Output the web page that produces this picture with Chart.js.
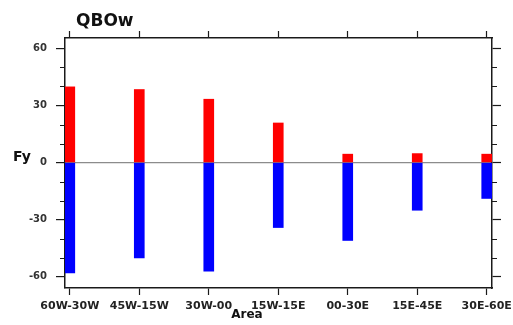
<!DOCTYPE html>
<html>
<head>
<meta charset="utf-8">
<script src="https://cdn.jsdelivr.net/npm/chart.js@4.4.0/dist/chart.umd.min.js"></script>
<style>
  html, body { margin: 0; padding: 0; background: #fff; }
  #wrap { width: 513px; height: 325px; }
</style>
</head>
<body>
<div id="wrap"><canvas id="chart"></canvas></div>
<script>
const categories = ['60W-30W', '45W-15W', '30W-00', '15W-15E', '00-30E', '15E-45E', '30E-60E'];
const positiveFy = [39.8, 38.4, 33.3, 20.8, 4.4, 4.7, 4.4];
const negativeFy = [-58.1, -50.2, -57.2, -34.2, -41.0, -25.1, -18.9];
const yMajorTicks = [-60, -30, 0, 30, 60];
const yMinorTicks = [-50, -40, -20, -10, 10, 20, 40, 50];

const frameColor = '#1a1a1a';
const tickFont = { family: 'DejaVu Sans', weight: 'bold', size: 11 };

// x positions are category indexes on a linear axis
const catTicks = () => categories.map((c, i) => ({ value: i }));

function points(values) {
    return values.map((v, i) => ({ x: i, y: v }));
}

// keep the plot box fixed, labels may hang over the edges
function fixHeight(h) {
    return scale => {
        scale.height = h;
        scale.paddingLeft = 0;
        scale.paddingRight = 0;
    };
}

// minor ticks on left and right, plus the free text (title, Fy, Area)
const extrasPlugin = {
    id: 'extras',
    afterDraw(chart) {
        const ctx = chart.ctx;
        const area = chart.chartArea;
        const yScale = chart.scales.y;

        ctx.save();
        ctx.strokeStyle = frameColor;
        ctx.lineWidth = 1.2;
        yMinorTicks.forEach(v => {
            const py = Math.round(yScale.getPixelForValue(v)) + 0.5;
            ctx.beginPath();
            ctx.moveTo(area.left - 5, py);
            ctx.lineTo(area.left, py);
            ctx.moveTo(area.right, py);
            ctx.lineTo(area.right + 5, py);
            ctx.stroke();
        });

        ctx.fillStyle = '#111';
        ctx.textBaseline = 'middle';
        ctx.textAlign = 'left';
        ctx.font = 'bold 17px "DejaVu Sans"';
        ctx.fillText('QBOw', 76, 22);

        ctx.font = 'bold 14px "DejaVu Sans"';
        ctx.fillText('Fy', 13, 157);

        ctx.textAlign = 'center';
        ctx.font = 'bold 12px "DejaVu Sans"';
        ctx.fillText('Area', 247, 315);
        ctx.restore();
    }
};

const ctx = document.getElementById('chart').getContext('2d');

new Chart(ctx, {
    type: 'bar',
    data: {
        datasets: [{
            label: 'positive',
            data: points(positiveFy),
            backgroundColor: '#ff0000',
            barThickness: 10
        }, {
            label: 'negative',
            data: points(negativeFy),
            backgroundColor: '#0000ff',
            barThickness: 10
        }]
    },
    options: {
        responsive: true,
        maintainAspectRatio: false,
        animation: false,
        layout: { padding: 0 },
        plugins: {
            legend: { display: false },
            tooltip: { enabled: false },
            title: { display: false }
        },
        scales: {
            x: {
                type: 'linear',
                position: 'bottom',
                stacked: true,
                offset: false,
                min: -0.069,
                max: 6.076,
                afterBuildTicks: scale => { scale.ticks = catTicks(); },
                afterFit: fixHeight(37),
                ticks: {
                    font: tickFont,
                    color: '#222',
                    padding: 5,
                    maxRotation: 0,
                    autoSkip: false,
                    callback: value => categories[value]
                },
                grid: {
                    offset: false,
                    drawOnChartArea: false,
                    tickLength: 7,
                    tickColor: frameColor,
                    tickWidth: 1.2
                },
                border: { color: frameColor, width: 1.5 }
            },
            x2: {
                type: 'linear',
                position: 'top',
                offset: false,
                min: -0.069,
                max: 6.076,
                afterBuildTicks: scale => { scale.ticks = catTicks(); },
                afterFit: fixHeight(38),
                ticks: { display: false },
                grid: {
                    offset: false,
                    drawOnChartArea: false,
                    tickLength: 7,
                    tickColor: frameColor,
                    tickWidth: 1.2
                },
                border: { color: frameColor, width: 1.5 }
            },
            y: {
                position: 'left',
                stacked: true,
                min: -66,
                max: 65.5,
                afterBuildTicks: scale => { scale.ticks = yMajorTicks.map(v => ({ value: v })); },
                afterFit: scale => { scale.width = 65; },
                ticks: {
                    font: { family: 'DejaVu Sans', weight: 'bold', size: 10 },
                    color: '#333',
                    padding: 9
                },
                grid: {
                    drawOnChartArea: true,
                    color: c => (c.tick && c.tick.value === 0) ? '#8c8c8c' : 'rgba(0,0,0,0)',
                    lineWidth: 1.2,
                    tickLength: 9,
                    tickColor: frameColor,
                    tickWidth: 1.2
                },
                border: { color: frameColor, width: 1.5 }
            },
            y2: {
                position: 'right',
                min: -66,
                max: 65.5,
                afterBuildTicks: scale => { scale.ticks = yMajorTicks.map(v => ({ value: v })); },
                afterFit: scale => { scale.width = 21; },
                ticks: { display: false },
                grid: {
                    drawOnChartArea: false,
                    tickLength: 9,
                    tickColor: frameColor,
                    tickWidth: 1.2
                },
                border: { color: frameColor, width: 1.5 }
            }
        }
    },
    plugins: [extrasPlugin]
});
</script>
</body>
</html>
